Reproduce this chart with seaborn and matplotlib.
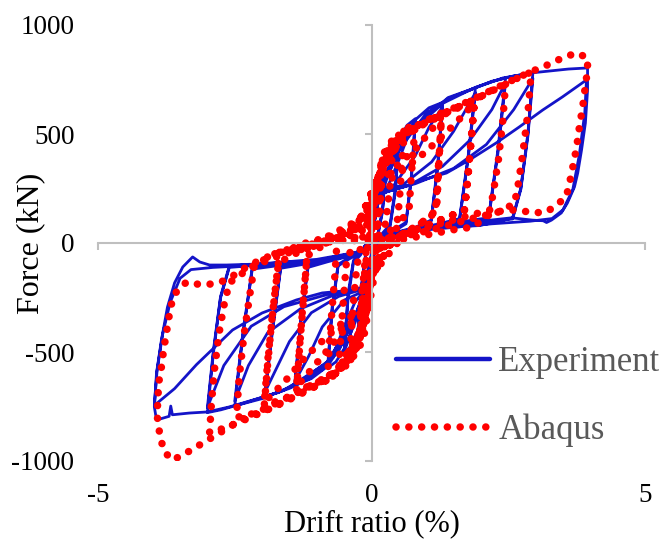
import matplotlib
matplotlib.use("Agg")
import matplotlib.pyplot as plt
from matplotlib.lines import Line2D
import pandas as pd
import seaborn as sns

# ---------------------------------------------------------------
# Hysteresis data: (drift ratio %, force kN), one list per drift level
# ---------------------------------------------------------------
exp_025 = [(0.0, 0), (0.08, 200), (0.17, 290), (0.25, 330), (0.21, 170), (0.13, 50), (0.04, -60),
           (-0.06, -220), (-0.16, -370), (-0.25, -430), (-0.2, -240), (-0.12, -70), (-0.03, 40),
           (0.06, 170), (0.15, 260), (0.25, 315), (0.2, 140), (0.11, 35), (0.0, -80),
           (-0.12, -280), (-0.25, -410), (-0.19, -210), (-0.1, -45), (0.0, 50)]

exp_050 = [(0.1, 200), (0.25, 350), (0.4, 455), (0.5, 500), (0.44, 260), (0.34, 85), (0.2, 45), (0.05, -25),
           (-0.08, -210), (-0.25, -400), (-0.4, -480), (-0.5, -515), (-0.43, -260), (-0.33, -90), (-0.2, -55), (-0.05, 20),
           (0.1, 185), (0.25, 270), (0.4, 400), (0.5, 480), (0.44, 240), (0.34, 75), (0.2, 38), (0.05, -30),
           (-0.1, -200), (-0.25, -300), (-0.4, -430), (-0.5, -500), (-0.43, -235), (-0.33, -80), (-0.2, -45), (-0.05, 15)]

exp_080 = [(0.1, 195), (0.3, 340), (0.5, 475), (0.65, 540), (0.8, 570), (0.73, 310), (0.63, 95), (0.4, 58), (0.15, 30), (0.0, -45),
           (-0.12, -225), (-0.3, -365), (-0.5, -485), (-0.65, -545), (-0.8, -573), (-0.72, -310), (-0.61, -105), (-0.4, -72), (-0.15, -40), (0.0, 30),
           (0.1, 200), (0.3, 260), (0.5, 380), (0.65, 480), (0.8, 555), (0.73, 295), (0.63, 88), (0.4, 52), (0.15, 26), (0.0, -55),
           (-0.12, -215), (-0.3, -270), (-0.5, -385), (-0.65, -480), (-0.8, -560), (-0.72, -295), (-0.61, -98), (-0.4, -66), (-0.15, -35), (0.0, 25)]

exp_130 = [(0.1, 205), (0.4, 390), (0.8, 565), (1.05, 620), (1.3, 645), (1.21, 360), (1.09, 105), (0.8, 72), (0.4, 46), (0.1, 20), (0.0, -60),
           (-0.15, -245), (-0.5, -445), (-0.8, -565), (-1.1, -622), (-1.4, -652), (-1.29, -360), (-1.16, -112), (-0.8, -86), (-0.4, -60), (-0.1, -30), (0.0, 30),
           (0.12, 212), (0.4, 262), (0.8, 400), (1.05, 530), (1.3, 625), (1.21, 345), (1.09, 98), (0.8, 66), (0.4, 40), (0.1, 15), (0.0, -70),
           (-0.15, -222), (-0.5, -262), (-0.9, -385), (-1.15, -520), (-1.4, -635), (-1.29, -345), (-1.16, -106), (-0.8, -80), (-0.4, -55), (-0.1, -25), (0.0, 35)]

exp_190 = [(0.12, 212), (0.5, 425), (1.0, 595), (1.4, 662), (1.9, 712), (1.77, 405), (1.61, 112), (1.2, 86), (0.6, 56), (0.15, 25), (0.0, -62),
           (-0.15, -255), (-0.6, -495), (-1.1, -618), (-1.5, -667), (-1.95, -705), (-1.81, -405), (-1.66, -116), (-1.2, -96), (-0.6, -70), (-0.1, -35), (0.0, 30),
           (0.15, 220), (0.6, 272), (1.1, 372), (1.5, 512), (1.9, 690), (1.77, 392), (1.61, 106), (1.2, 80), (0.6, 50), (0.15, 20), (0.0, -70),
           (-0.15, -212), (-0.6, -245), (-1.1, -320), (-1.5, -452), (-1.95, -685), (-1.81, -392), (-1.66, -110), (-1.2, -90), (-0.6, -64), (-0.1, -30), (0.0, 35)]

exp_245 = [(0.12, 215), (0.6, 475), (1.2, 628), (1.9, 714), (2.2, 740), (2.45, 757), (2.31, 425), (2.14, 116), (1.6, 96), (0.8, 66), (0.2, 30), (0.0, -62),
           (-0.15, -262), (-0.7, -525), (-1.4, -652), (-2.0, -714), (-2.5, -747), (-2.35, -425), (-2.18, -120), (-1.6, -100), (-0.8, -80), (-0.1, -40), (0.0, 30),
           (0.15, 225), (0.7, 266), (1.3, 352), (1.8, 472), (2.2, 612), (2.45, 735), (2.31, 410), (2.14, 110), (1.6, 90), (0.8, 60), (0.2, 25), (0.0, -70),
           (-0.15, -210), (-0.7, -240), (-1.3, -302), (-1.9, -412), (-2.25, -562), (-2.5, -725), (-2.35, -410), (-2.18, -114), (-1.6, -95), (-0.8, -75), (-0.1, -35), (0.0, 35)]

exp_295 = [(0.12, 218), (0.6, 482), (1.4, 662), (2.2, 742), (2.6, 766), (2.95, 780), (2.86, 505), (2.73, 252), (2.58, 116), (2.0, 100), (1.0, 70), (0.25, 36), (0.0, -62),
           (-0.15, -272), (-0.8, -548), (-1.6, -676), (-2.4, -740), (-2.75, -765), (-3.0, -778), (-2.89, -505), (-2.76, -252), (-2.6, -112), (-2.0, -100), (-1.0, -80), (-0.1, -40), (0.0, 30),
           (0.15, 226), (0.8, 272), (1.5, 342), (2.1, 452), (2.6, 612), (2.95, 755), (2.86, 492), (2.73, 246), (2.58, 110), (2.0, 95), (1.0, 66), (0.25, 30), (0.0, -70),
           (-0.15, -206), (-0.8, -236), (-1.6, -292), (-2.2, -382), (-2.7, -562), (-3.0, -755), (-2.89, -492), (-2.76, -246), (-2.6, -106), (-2.0, -95), (-1.0, -75), (-0.1, -35), (0.0, 35)]

exp_395 = [(0.12, 222), (0.6, 492), (1.4, 667), (2.4, 757), (2.95, 781), (3.3, 790), (3.6, 798), (3.95, 803),
           (3.95, 702), (3.91, 550), (3.84, 427), (3.77, 321), (3.71, 257), (3.58, 183), (3.47, 138), (3.29, 105),
           (3.2, 94), (3.14, 102), (2.94, 105), (2.58, 115), (2.2, 92), (1.97, 80), (1.0, 66), (0.3, 40), (0.0, -62),
           (-0.16, -282), (-0.9, -582), (-1.7, -686), (-2.6, -752), (-3.0, -775), (-3.33, -780), (-3.64, -788),
           (-3.67, -748), (-3.7, -795), (-3.93, -812), (-3.97, -752), (-3.93, -596), (-3.84, -445), (-3.73, -294),
           (-3.6, -183), (-3.45, -110), (-3.27, -64), (-3.14, -87), (-2.96, -101), (-2.65, -101), (-2.0, -96),
           (-1.0, -80), (-0.2, -45), (0.0, 30),
           (0.09, 229), (0.57, 257), (0.93, 289), (1.37, 321), (1.79, 381), (2.28, 459), (2.7, 532), (3.13, 610),
           (3.49, 670), (3.8, 725), (3.93, 748), (3.9, 600), (3.8, 405), (3.68, 245), (3.5, 152), (3.3, 112),
           (2.9, 100), (2.2, 88), (1.0, 60), (0.3, 35), (0.0, -70),
           (-0.16, -202), (-0.35, -216), (-0.9, -229), (-1.37, -261), (-2.0, -321), (-2.54, -399), (-3.2, -558),
           (-3.6, -668), (-3.97, -745), (-3.92, -585), (-3.82, -420), (-3.68, -272), (-3.5, -162), (-3.3, -122),
           (-2.9, -112), (-2.0, -100), (-1.0, -80), (-0.2, -40), (0.0, 0)]

aba_020 = [(0.0, 60), (0.08, 260), (0.18, 360), (0.14, 160), (0.06, 0), (-0.04, -180), (-0.15, -360),
           (-0.2, -410), (-0.15, -190), (-0.07, -20), (0.02, 120)]

aba_040 = [(0.0, 0), (0.06, 200), (0.2, 380), (0.16, 170), (0.09, 30), (0.02, -90), (-0.08, -300), (-0.22, -445),
           (-0.17, -220), (-0.1, -40), (-0.02, 70), (0.1, 280), (0.22, 410), (0.4, 480), (0.34, 270), (0.26, 90),
           (0.12, 30), (0.02, -60), (-0.12, -350), (-0.25, -470), (-0.4, -545), (-0.34, -300), (-0.27, -110),
           (-0.15, 40), (-0.05, 110)]

aba_060 = [(0.1, 280), (0.3, 430), (0.6, 515), (0.56, 380), (0.52, 230), (0.48, 110), (0.3, 40), (0.12, 0),
           (0.0, -140), (-0.12, -330), (-0.35, -520), (-0.6, -575), (-0.56, -420), (-0.51, -250), (-0.46, -90),
           (-0.3, 20), (-0.1, 100)]

aba_080 = [(0.12, 300), (0.4, 470), (0.6, 520), (0.8, 545), (0.76, 420), (0.72, 280), (0.69, 165), (0.5, 80),
           (0.3, 20), (0.1, -40), (0.0, -150), (-0.12, -340), (-0.4, -540), (-0.6, -585), (-0.8, -610),
           (-0.77, -460), (-0.72, -300), (-0.67, -150), (-0.64, -32), (-0.45, 40), (-0.2, 110), (-0.05, 160)]

aba_130 = [(0.12, 300), (0.5, 480), (0.9, 548), (1.28, 596), (1.25, 450), (1.22, 300), (1.19, 151), (0.9, 90),
           (0.5, 30), (0.15, -20), (0.0, -160), (-0.12, -350), (-0.5, -560), (-0.9, -630), (-1.37, -680),
           (-1.32, -500), (-1.26, -300), (-1.2, -130), (-1.17, -18), (-0.8, 30), (-0.35, 90), (-0.05, 150),
           (0.1, 260), (0.4, 340), (0.8, 430), (1.1, 520), (1.28, 580), (1.24, 420), (1.2, 260), (1.17, 140),
           (0.8, 70), (0.4, 15), (0.0, -150), (-0.12, -300), (-0.5, -400), (-0.9, -520), (-1.2, -610),
           (-1.37, -660), (-1.31, -460), (-1.24, -250), (-1.18, -60), (-0.7, 20), (-0.2, 110)]

aba_190 = [(0.12, 300), (0.5, 470), (1.0, 555), (1.4, 605), (1.88, 655), (1.83, 500), (1.77, 330), (1.72, 200),
           (1.7, 151), (1.3, 110), (0.8, 60), (0.3, 20), (0.0, -160), (-0.12, -360), (-0.6, -585), (-1.2, -665),
           (-1.6, -715), (-1.96, -745), (-1.9, -560), (-1.82, -350), (-1.74, -170), (-1.68, -46), (-1.2, 0),
           (-0.6, 40), (-0.1, 120),
           (0.1, 250), (0.5, 320), (1.0, 420), (1.5, 540), (1.88, 640), (1.82, 460), (1.76, 290), (1.7, 150),
           (1.2, 100), (0.6, 40), (0.0, -150), (-0.12, -290), (-0.6, -380), (-1.2, -520), (-1.6, -640),
           (-1.96, -730), (-1.89, -520), (-1.8, -300), (-1.7, -90), (-1.1, -10), (-0.3, 60)]

aba_245 = [(0.12, 300), (0.6, 500), (1.2, 575), (1.8, 645), (2.2, 700), (2.45, 725), (2.4, 560), (2.32, 380),
           (2.22, 220), (2.16, 151), (1.7, 120), (1.0, 70), (0.3, 25), (0.0, -160), (-0.15, -380), (-0.7, -610),
           (-1.3, -680), (-1.9, -755), (-2.2, -785), (-2.47, -800), (-2.42, -620), (-2.33, -420), (-2.22, -230),
           (-2.14, -101), (-1.7, -40), (-1.0, 0), (-0.4, 40), (-0.1, 100)]

aba_295 = [(0.12, 300), (0.6, 505), (1.3, 590), (1.9, 660), (2.45, 728), (2.7, 760), (2.92, 784), (2.86, 600),
           (2.76, 400), (2.67, 250), (2.61, 180), (2.3, 140), (1.8, 110), (1.1, 60), (0.4, 20), (0.0, -160),
           (-0.15, -390), (-0.7, -615), (-1.3, -690), (-1.9, -765), (-2.4, -820), (-2.7, -850), (-2.96, -870),
           (-2.93, -752), (-2.88, -600), (-2.79, -420), (-2.7, -290), (-2.6, -183), (-2.2, -110), (-1.6, -50),
           (-0.9, -5), (-0.3, 40), (0.0, 80)]

aba_395 = [(0.12, 300), (0.6, 510), (1.3, 595), (1.9, 665), (2.45, 732), (2.9, 784), (3.2, 815), (3.5, 850),
           (3.75, 872), (3.95, 849), (3.95, 794), (3.9, 702), (3.86, 624), (3.8, 532), (3.75, 440), (3.68, 349),
           (3.62, 275), (3.56, 211), (3.38, 174), (3.2, 142), (2.94, 138), (2.7, 151), (2.47, 151), (2.2, 138),
           (1.85, 73), (1.48, 60), (1.19, 46), (0.82, 28), (0.51, 14), (0.2, 10), (0.05, -150), (-0.15, -445),
           (-0.4, -550), (-0.64, -596), (-0.9, -642), (-1.26, -688), (-1.63, -734), (-1.92, -766), (-2.28, -798),
           (-2.54, -835), (-3.0, -905), (-3.3, -950), (-3.5, -980), (-3.66, -995), (-3.8, -950), (-3.87, -880),
           (-3.92, -790), (-3.89, -642), (-3.84, -569), (-3.8, -491), (-3.75, -413), (-3.69, -321), (-3.64, -261),
           (-3.55, -216), (-3.38, -179), (-3.2, -188), (-3.05, -193), (-2.83, -183), (-2.65, -170), (-2.23, -101),
           (-1.74, -46), (-1.26, -18), (-0.9, 0), (-0.53, 14), (-0.2, 30)]

series_names = ["Experiment", "Abaqus"]
x_ticks = [-5, 0, 5]
y_ticks = [-1000, -500, 0, 500, 1000]

BLUE = "#1414C8"
RED = "#FF0000"
GREY_AXIS = "#BFBFBF"
LEGEND_TEXT = "#595959"


def to_frame(*loops):
    rows = [pt for loop in loops for pt in loop]
    return pd.DataFrame(rows, columns=["drift", "force"])


exp_df = to_frame(exp_025, exp_050, exp_080, exp_130, exp_190, exp_245, exp_295, exp_395)
aba_df = to_frame(aba_020, aba_040, aba_060, aba_080, aba_130, aba_190, aba_245, aba_295, aba_395)

sns.set_theme(style="white")
plt.rcParams["font.family"] = ["Liberation Serif", "DejaVu Serif"]
plt.rcParams["axes.unicode_minus"] = False

fig = plt.figure(figsize=(6.64, 5.40), dpi=100)
ax = fig.add_axes([98 / 664, 1 - 461 / 540, (645 - 98) / 664, (461 - 25) / 540])

DOTS = (0, (0.01, 1.7))
sns.lineplot(data=exp_df, x="drift", y="force", sort=False, estimator=None, ax=ax,
             color=BLUE, lw=2.0, legend=False, solid_joinstyle="round")
sns.lineplot(data=aba_df, x="drift", y="force", sort=False, estimator=None, ax=ax,
             color=RED, lw=5.4, legend=False, linestyle=DOTS, dash_capstyle="round")

ax.set_xlim(-5, 5)
ax.set_ylim(-1000, 1000)
ax.set_xlabel("")
ax.set_ylabel("")

# axes crossing at the origin
for side in ("top", "right"):
    ax.spines[side].set_visible(False)
for side in ("left", "bottom"):
    ax.spines[side].set_position(("data", 0))
    ax.spines[side].set_color(GREY_AXIS)
    ax.spines[side].set_linewidth(1.5)
ax.set_xticks(x_ticks)
ax.set_yticks(y_ticks)
ax.tick_params(direction="out", length=5, width=1.5, color=GREY_AXIS,
               labelleft=False, labelbottom=False, left=True, bottom=True)

# tick labels sit at the low edge of the plot area
sx = ax.secondary_xaxis("bottom")
sx.set_xticks(x_ticks)
sx.tick_params(length=0, pad=16, labelsize=19.5, labelcolor="black")
sy = ax.secondary_yaxis("left")
sy.set_yticks(y_ticks)
sy.tick_params(length=0, pad=17, labelsize=19.5, labelcolor="black")
for sec in (sx, sy):
    for sp in sec.spines.values():
        sp.set_visible(False)

sx.set_xlabel("Drift ratio (%)", fontsize=22, color="black", labelpad=1)
fig.text(31 / 664, 1 - 243 / 540, "Force (kN)", rotation=90, ha="center", va="center",
         fontsize=23, color="black")

handles = [
    Line2D([], [], color=BLUE, lw=3.2, solid_capstyle="round"),
    Line2D([], [], color=RED, lw=5.4, linestyle=DOTS, dash_capstyle="round"),
]
fig.legend(handles=handles, labels=series_names, loc="upper left",
           bbox_to_anchor=(396 / 664, 1 - 346 / 540), frameon=False, fontsize=25,
           handlelength=2.7, handletextpad=0.25, labelspacing=1.0,
           borderpad=0, borderaxespad=0, labelcolor=LEGEND_TEXT)

fig.savefig("out.png", dpi=100)
